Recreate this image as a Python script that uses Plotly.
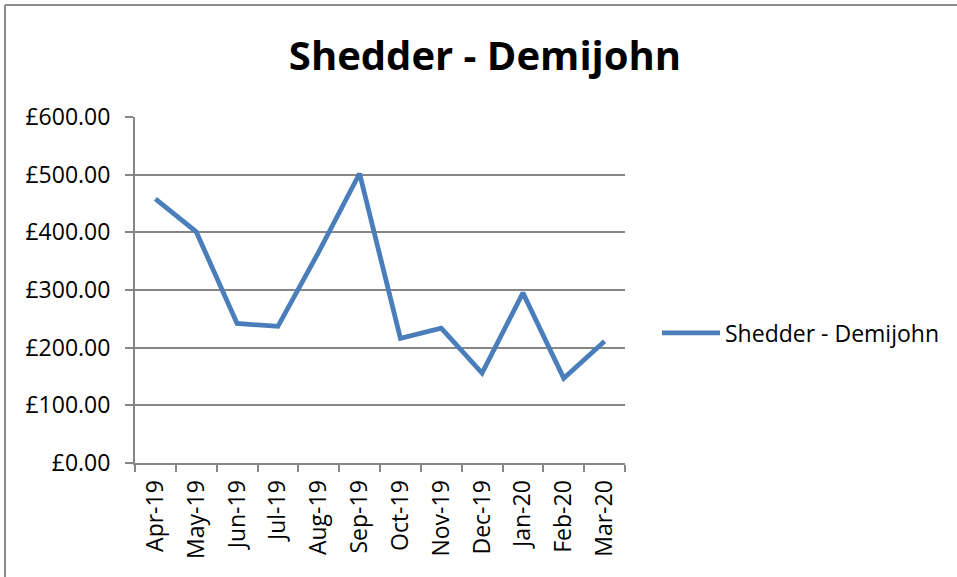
import plotly.graph_objects as go

months = ["Apr-19", "May-19", "Jun-19", "Jul-19", "Aug-19", "Sep-19",
          "Oct-19", "Nov-19", "Dec-19", "Jan-20", "Feb-20", "Mar-20"]
values = [458, 401, 242, 237, 366, 502, 216, 234, 156, 295, 147, 211]
series_name = "Shedder - Demijohn"
y_ticks = [0, 100, 200, 300, 400, 500, 600]
y_tick_labels = ["£0.00", "£100.00", "£200.00", "£300.00", "£400.00", "£500.00", "£600.00"]

W, H = 957, 577
L, R, T, B = 135, 625, 117, 463

fig = go.Figure()
fig.add_trace(go.Scatter(
    x=months, y=values, mode="lines", name=series_name,
    line=dict(color="#4A7EBB", width=4.8),
))

font_family = "Open Sans, Noto Sans, sans-serif"
grid_col = "#868686"

fig.update_layout(
    width=W, height=H,
    margin=dict(l=L, r=W - R, t=T, b=H - B, pad=0),
    paper_bgcolor="white", plot_bgcolor="white",
    title=dict(text="<b>Shedder - Demijohn</b>", x=485 / W, xanchor="center",
               y=1 - 56 / H, yanchor="middle",
               font=dict(family=font_family, size=40, color="black")),
    showlegend=True,
    legend=dict(xref="container", yref="container",
                x=657 / W, xanchor="left", y=1 - 333 / H, yanchor="middle",
                font=dict(family=font_family, size=23, color="black"),
                itemwidth=58, bgcolor="rgba(0,0,0,0)"),
    xaxis=dict(
        type="category", tickson="boundaries", tickangle=-90,
        ticks="outside", ticklen=7, tickcolor=grid_col, tickwidth=1.5,
        showline=True, linecolor=grid_col, linewidth=2,
        showgrid=False, zeroline=False, ticklabelstandoff=6,
        tickfont=dict(family=font_family, size=23, color="black"),
        range=[-0.5, 11.5],
    ),
    yaxis=dict(
        range=[0, 600], tickvals=y_ticks, ticktext=y_tick_labels,
        ticks="outside", ticklen=8, tickcolor=grid_col, tickwidth=1.5,
        showline=True, linecolor=grid_col, linewidth=2,
        showgrid=True, gridcolor=grid_col, gridwidth=2,
        zeroline=False, ticklabelstandoff=10,
        tickfont=dict(family=font_family, size=23, color="black"),
    ),
    shapes=[
        dict(type="line", xref="paper", yref="paper",
             x0=(5 - L) / (R - L), x1=(957 - L) / (R - L),
             y0=(H - 5 - (H - B)) / (B - T), y1=(H - 5 - (H - B)) / (B - T),
             line=dict(color="#8C8C8C", width=2)),
        dict(type="line", xref="paper", yref="paper",
             x0=(5 - L) / (R - L), x1=(5 - L) / (R - L),
             y0=(H - 577 - (H - B)) / (B - T), y1=(H - 5 - (H - B)) / (B - T),
             line=dict(color="#8C8C8C", width=2)),
    ],
)

fig.write_html("out.html", config={"displayModeBar": False},
               post_script="document.body.style.margin='0';")
